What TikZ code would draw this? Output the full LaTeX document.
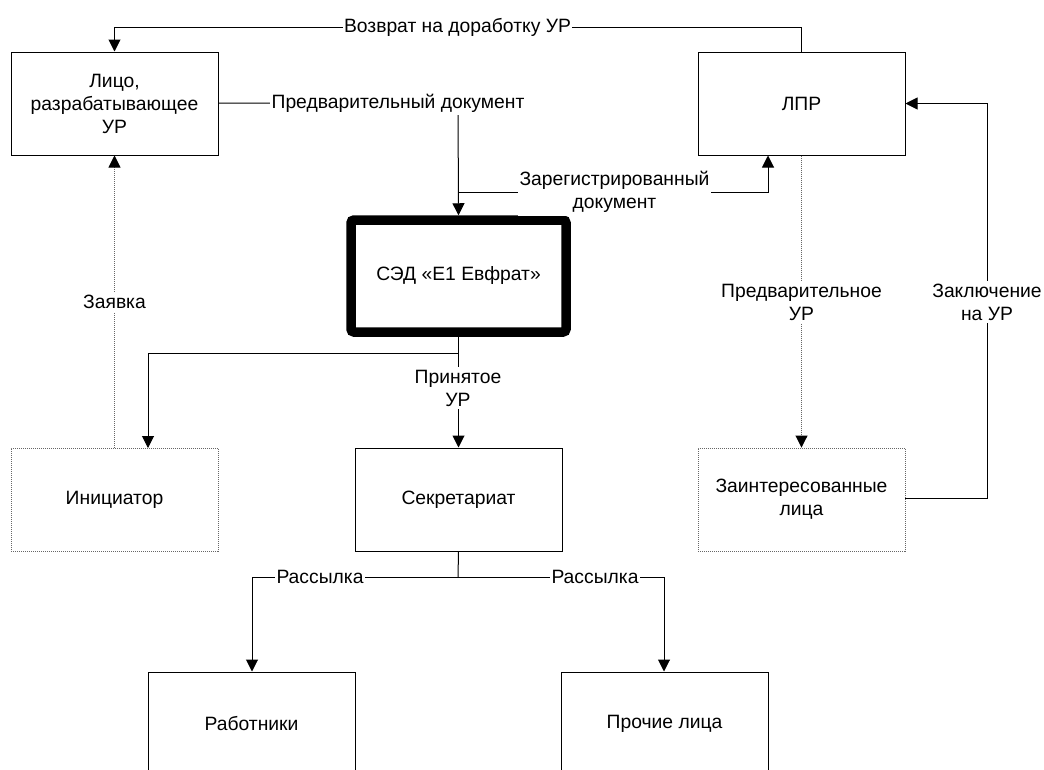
\documentclass[tikz,border=0pt]{standalone}
\usepackage{fontspec}
\setmainfont{Liberation Sans}
\usetikzlibrary{arrows.meta,calc}
\begin{document}
\begin{tikzpicture}[x=1pt,y=-1pt,
  every node/.style={font=\fontsize{19.3}{23}\selectfont},
  box/.style={draw, line width=1pt, minimum width=207pt, minimum height=103pt, align=center, inner sep=0pt},
  dbox/.style={draw=black!60, line width=0.9pt, dash pattern=on 1pt off 1pt, minimum width=207pt, minimum height=103pt, align=center, inner sep=0pt},
  sedbox/.style={draw, line width=9.5pt, rounded corners=3pt, minimum width=215pt, minimum height=112pt, align=center, inner sep=0pt},
  conn/.style={line width=1pt, -{Triangle[length=12pt,width=12pt]}},
  plain/.style={line width=1pt},
  dconn/.style={draw=black!60, line width=0.9pt, dash pattern=on 1pt off 1pt, -{Triangle[length=12pt,width=12pt,fill=black,color=black]}},
  lbl/.style={fill=white, inner xsep=1.5pt, inner ysep=3pt, align=center}
]
\useasboundingbox (0,0) rectangle (1044,769);

% nodes
\node[box]    (lico) at (114.5,103.5) {Лицо,\\разрабатывающее\\УР};
\node[box]    (lpr)  at (801.5,103.5) {ЛПР};
\node[sedbox] (sed)  at (458.5,276)   {СЭД «Е1 Евфрат»};
\node[dbox]   (init) at (114.5,499.5) {Инициатор};
\node[box]    (sec)  at (458.5,499.5) {Секретариат};
\node[dbox]   (zint) at (801.5,499.5) {Заинтересованные\\лица};
\node[box]    (rab)  at (251.5,723.5) {Работники};
\node[box]    (proch) at (664.5,723.5) {Прочие лица};

% helper coordinates
\coordinate (top)   at (0,27);
\coordinate (pd)    at (458,103);
\coordinate (regj)  at (458,192);
\coordinate (rege)  at (768,192);
\coordinate (acc)   at (458,353);
\coordinate (initx) at (148,448);
\coordinate (zr)    at (987,498);
\coordinate (dist)  at (458,577);
\coordinate (distl) at (252,577);
\coordinate (distr) at (664,577);

% return to revision
\draw[conn] (lpr.north) -- (lpr.north |- top) -- (lico.north |- top) -- (lico.north);
\node[lbl] (l1) at (457.5,27) {Возврат на доработку УР};

% preliminary document
\draw[conn] (lico.east |- pd) -- (pd) -- (sed.north);
\node[lbl] (l2) at (398,103) {Предварительный документ};

% registered document
\draw[conn] (regj) -- (rege) -- (rege |- lpr.south);
\node[lbl] (l3) at (614.5,192) {Зарегистрированный\\документ};

% accepted decision
\draw[conn] (sed.south) -- (sec.north);
\node[lbl] (l4) at (458,388) {Принятое\\УР};
\draw[conn] (acc) -- (initx |- acc) -- (initx);

% application
\draw[dconn] (init.north) -- (lico.south);
\node[lbl] (l5) at (114.5,302) {Заявка};

% preliminary decision
\draw[dconn] (lpr.south) -- (zint.north);
\node[lbl] (l6) at (801.5,302) {Предварительное\\УР};

% conclusion
\draw[conn] (zint.east |- zr) -- (zr) -- (zr |- lpr.east) -- (lpr.east);
\node[lbl] (l7) at (987,302) {Заключение\\на УР};

% distribution
\draw[plain] (sec.south) -- (dist);
\draw[conn] (dist) -- (distl) -- (distl |- rab.north);
\draw[conn] (dist) -- (distr) -- (distr |- proch.north);
\node[lbl] (l8) at (320,577) {Рассылка};
\node[lbl] (l9) at (595,577) {Рассылка};
\end{tikzpicture}
\end{document}
